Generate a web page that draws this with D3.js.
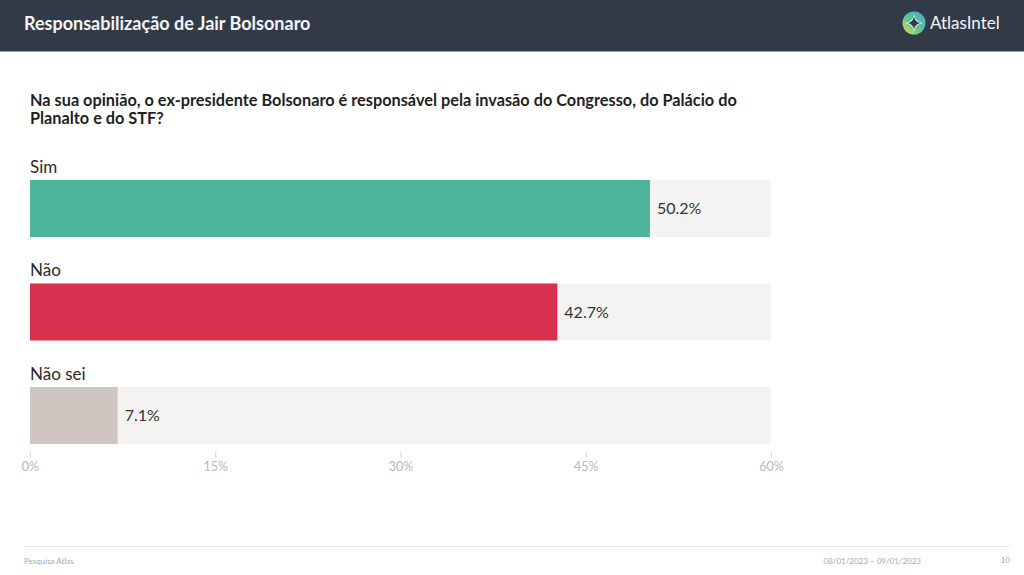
<!DOCTYPE html>
<html>
<head>
<meta charset="utf-8">
<script src="https://cdn.jsdelivr.net/npm/d3@7"></script>
<style>
  body { margin: 0; background: #fff; }
  svg { display: block; font-family: Lato, "Open Sans", sans-serif; }
</style>
</head>
<body>
<div id="canvas"></div>
<script>
"use strict"

let svgWidth = 1024
let svgHeight = 575

/* data */
let categories = ["Sim", "Não", "Não sei"]
let values = [50.2, 42.7, 7.1]
let barColors = ["#4db59b", "#d9304f", "#cfc6c2"]
let tickValues = [0, 15, 30, 45, 60]

let svg = d3.select("#canvas")
  .append("svg")
  .attr("width", svgWidth)
  .attr("height", svgHeight)

/* header band */
svg.append("rect")
  .attr("width", svgWidth)
  .attr("height", 51)
  .attr("fill", "#333a47")

svg.append("line")
  .attr("x1", 0).attr("x2", svgWidth)
  .attr("y1", 51.5).attr("y2", 51.5)
  .attr("stroke", "#9aa0a8")

svg.append("text")
  .attr("x", 24)
  .attr("y", 30)
  .attr("fill", "#f4f5f7")
  .attr("font-size", 18)
  .attr("font-weight", "bold")
  .text("Responsabilização de Jair Bolsonaro")

/* logo */
let defs = svg.append("defs")
let grad = defs.append("linearGradient")
  .attr("id", "logoGrad")
  .attr("x1", "0").attr("y1", "1")
  .attr("x2", "1").attr("y2", "0")
grad.append("stop").attr("offset", "0%").attr("stop-color", "#e8e24a")
grad.append("stop").attr("offset", "45%").attr("stop-color", "#5cc58f")
grad.append("stop").attr("offset", "100%").attr("stop-color", "#47a9e0")

svg.append("circle")
  .attr("cx", 914).attr("cy", 23).attr("r", 11.5)
  .attr("fill", "url(#logoGrad)")

svg.append("path")
  .attr("d", "M914,14 Q915,22 923,23 Q915,24 914,32 Q913,24 905,23 Q913,22 914,14 Z")
  .attr("fill", "#f4f5f7")

svg.append("path")
  .attr("d", "M914,16.5 Q915,22 920.5,23 Q915,24 914,29.5 Q913,24 907.5,23 Q913,22 914,16.5 Z")
  .attr("fill", "#333a47")

svg.append("text")
  .attr("x", 930)
  .attr("y", 29)
  .attr("fill", "#f4f5f7")
  .attr("font-size", 17)
  .text("AtlasIntel")

/* question */
let question = svg.append("text")
  .attr("x", 30)
  .attr("fill", "#1f1f1f")
  .attr("font-size", 16.3)
  .attr("font-weight", "bold")
question.append("tspan").attr("x", 30).attr("y", 106)
  .text("Na sua opinião, o ex-presidente Bolsonaro é responsável pela invasão do Congresso, do Palácio do")
question.append("tspan").attr("x", 30).attr("y", 124)
  .text("Planalto e do STF?")

/* scales */
let xScale = d3.scaleLinear()
  .domain([0, 60])
  .range([30, 771])

let yScale = d3.scaleBand()
  .domain(categories)
  .range([180, 444])
  .paddingInner(0.449)

/* background tracks */
svg.selectAll(".track")
  .data(categories)
  .join("rect")
  .attr("class", "track")
  .attr("x", xScale(0))
  .attr("y", d => yScale(d))
  .attr("width", xScale(60) - xScale(0))
  .attr("height", yScale.bandwidth())
  .attr("fill", "#f4f3f1")

/* bars */
svg.selectAll(".bar")
  .data(values)
  .join("rect")
  .attr("class", "bar")
  .attr("x", xScale(0))
  .attr("y", (d, i) => yScale(categories[i]))
  .attr("width", d => xScale(d) - xScale(0))
  .attr("height", yScale.bandwidth())
  .attr("fill", (d, i) => barColors[i])

/* category labels */
svg.selectAll(".catLabel")
  .data(categories)
  .join("text")
  .attr("class", "catLabel")
  .attr("x", xScale(0))
  .attr("y", d => yScale(d) - 7)
  .attr("font-size", 17)
  .attr("fill", "#2a2a2a")
  .text(d => d)

/* value labels */
svg.selectAll(".valLabel")
  .data(values)
  .join("text")
  .attr("class", "valLabel")
  .attr("x", d => xScale(d) + 7)
  .attr("y", (d, i) => yScale(categories[i]) + yScale.bandwidth() / 2)
  .attr("dy", "0.36em")
  .attr("font-size", 16)
  .attr("fill", "#333")
  .text(d => d.toFixed(1) + "%")

/* x axis */
let xAxis = d3.axisBottom(xScale)
  .tickValues(tickValues)
  .tickSize(6)
  .tickFormat(d => d + "%")

let axisG = svg.append("g")
  .attr("transform", "translate(0,452)")
  .call(xAxis)

axisG.select(".domain").remove()
axisG.selectAll("line").attr("stroke", "#d4d4d4")
axisG.selectAll("text")
  .attr("fill", "#b8b8b8")
  .attr("font-size", 12.5)
  .attr("font-family", "Lato, sans-serif")
  .attr("dy", "0.71em")
  .attr("y", 10)

/* footer */
svg.append("line")
  .attr("x1", 24).attr("x2", 1010)
  .attr("y1", 546.5).attr("y2", 546.5)
  .attr("stroke", "#e6e6e6")

svg.append("text")
  .attr("x", 24).attr("y", 564)
  .attr("font-size", 8)
  .attr("fill", "#a8a8a8")
  .text("Pesquisa Atlas")

svg.append("text")
  .attr("x", 921).attr("y", 564)
  .attr("text-anchor", "end")
  .attr("font-size", 8)
  .attr("fill", "#a8a8a8")
  .text("08/01/2023 – 09/01/2023")

svg.append("text")
  .attr("x", 1010).attr("y", 563)
  .attr("text-anchor", "end")
  .attr("font-size", 8)
  .attr("fill", "#a8a8a8")
  .text("10")
</script>
</body>
</html>
